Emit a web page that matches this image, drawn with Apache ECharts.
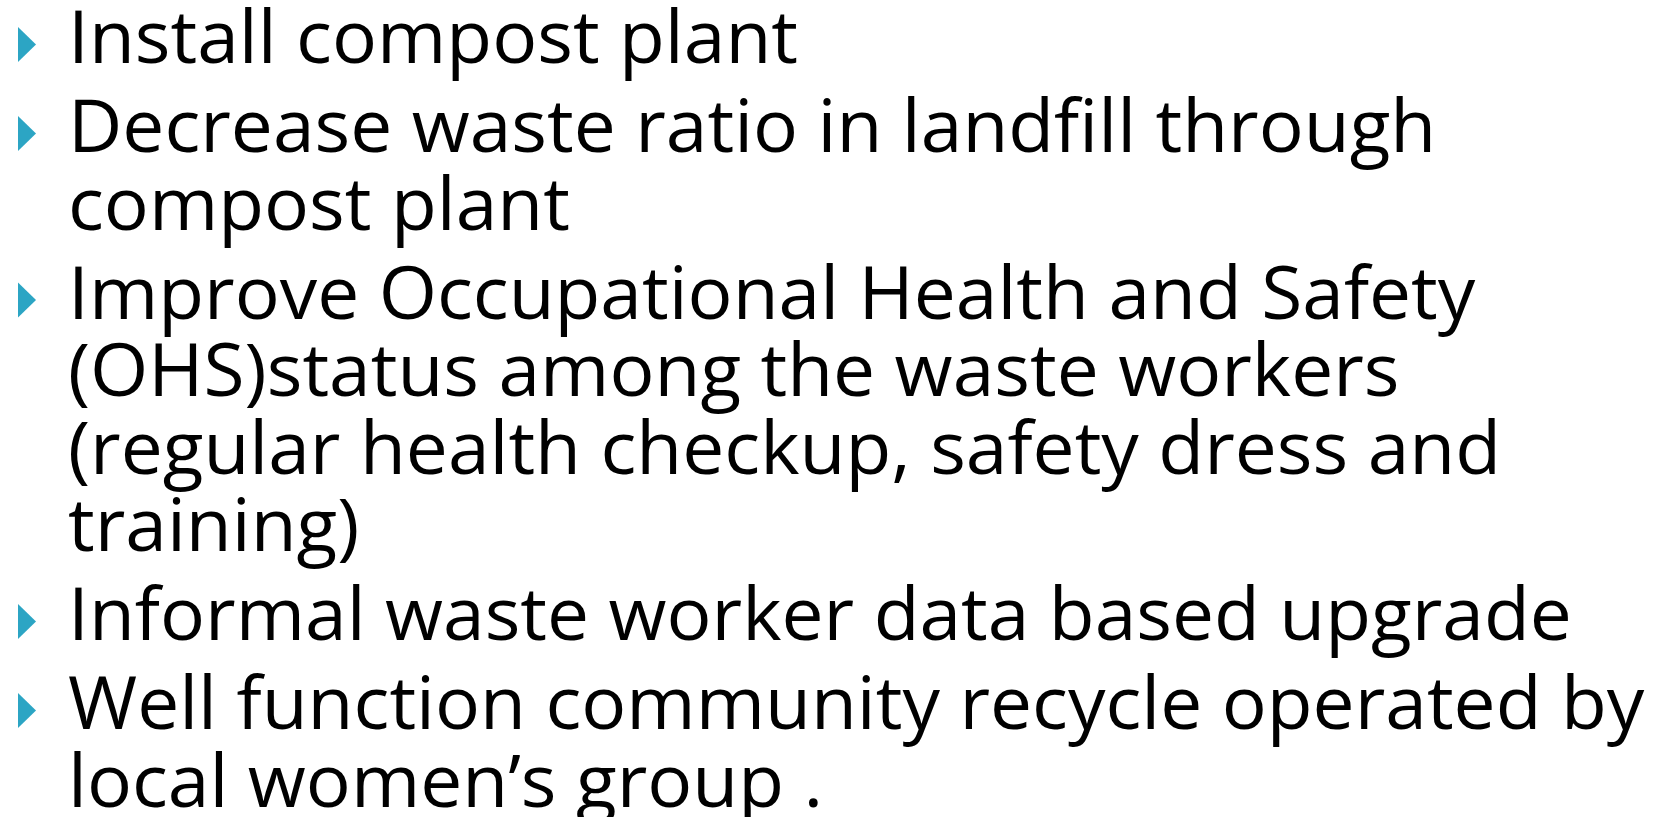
<!DOCTYPE html>
<html>
<head>
<meta charset="utf-8">
<title>Bullet slide</title>
<script src="https://cdn.jsdelivr.net/npm/echarts@6/dist/echarts.min.js"></script>
<style>
  html, body { margin: 0; padding: 0; background: #fff; }
  #slide { width: 1655px; height: 817px; }
</style>
</head>
<body>
<div id="slide"></div>
<script>
// slide content: one array of lines per bullet
var bullet1 = ['Install compost plant'];
var bullet2 = ['Decrease waste ratio in landfill through', 'compost plant'];
var bullet3 = ['Improve Occupational Health and Safety', '(OHS)status among the waste workers',
  '(regular health checkup, safety dress and', 'training)'];
var bullet4 = ['Informal waste worker data based upgrade'];
var bullet5 = ['Well function community recycle operated by', 'local women\u2019s group .'];
var bullets = [bullet1, bullet2, bullet3, bullet4, bullet5];

var FONT_SIZE = 74;
var FONT = FONT_SIZE + 'px "Open Sans"';
var firstBaseline = 63;
var lineStep = 77.5;
var paraGap = 11.5;
var textX = 68;
var stretch = 1.012;
var midOffset = 21; // baseline -> canvas 'middle'

var chart = echarts.init(document.getElementById('slide'));
var elements = [];
var row = 0;
bullets.forEach(function (lines, p) {
  lines.forEach(function (line, i) {
    var base = firstBaseline + row * lineStep + p * paraGap;
    if (i === 0) {
      elements.push({
        type: 'polygon',
        shape: { points: [[18, base - 36], [36, base - 18.5], [18, base - 1]] },
        style: { fill: '#2ca5c4' }
      });
    }
    elements.push({
      type: 'text',
      x: textX,
      y: base - midOffset,
      scaleX: stretch,
      style: {
        text: line,
        font: FONT,
        fill: '#000',
        textAlign: 'left',
        textVerticalAlign: 'middle'
      }
    });
    row++;
  });
});

chart.setOption({
  backgroundColor: '#ffffff',
  animation: false,
  graphic: elements
});
</script>
</body>
</html>
